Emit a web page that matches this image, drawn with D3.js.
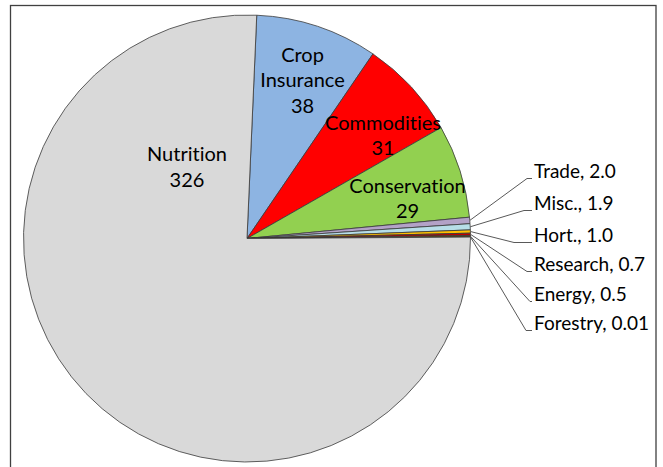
<!DOCTYPE html>
<html>
<head>
<meta charset="utf-8">
<script src="https://cdn.jsdelivr.net/npm/d3@7/dist/d3.min.js"></script>
<style>
  html, body { margin: 0; padding: 0; background: #ffffff; }
  svg { display: block; }
  text { font-family: Lato, "Open Sans", sans-serif; fill: #000; font-variant-ligatures: none; font-feature-settings: "liga" 0, "dlig" 0; }
</style>
</head>
<body>
<svg id="chart" width="663" height="467"></svg>
<script>
// ---- data ----
const categories = ["Crop Insurance", "Commodities", "Conservation", "Trade", "Misc.", "Hort.", "Research", "Energy", "Forestry", "Nutrition"];
const values     = [38, 31, 29, 2.0, 1.9, 1.0, 0.7, 0.5, 0.01, 326];
const valueLabels = ["38", "31", "29", "2.0", "1.9", "1.0", "0.7", "0.5", "0.01", "326"];
const colors     = ["#8db4e2", "#ff0000", "#92d050", "#b3a2c7", "#b7dee8", "#ffc000", "#c00000", "#7f6000", "#00b050", "#d9d9d9"];

// inner labels (multi-line), index into categories
const innerLabelLines = {
  0: ["Crop", "Insurance", "38"],
  1: ["Commodities", "31"],
  2: ["Conservation", "29"],
  9: ["Nutrition", "326"]
};

// ---- layout ----
const W = 663, H = 467;
const cx = 247, cy = 238.5, R = 223.5;
const startOffset = 2.5 * Math.PI / 180;
const innerPos = { 0: [302.5, 61.5], 1: [383, 129.5], 2: [407.5, 192.5], 9: [187, 161] };
const innerLineH = 25.8;
const outerLabelX = 534;
const outerBaselines = { 3: 178, 4: 210, 5: 242, 6: 271, 7: 301, 8: 330 };
const elbowX = { 3: 527, 4: 524, 5: 514, 6: 527, 7: 530, 8: 526 };
const lineEndX = 532;

const svg = d3.select("#chart");

// frame
svg.append("rect")
  .attr("x", 10.5).attr("y", 5.5)
  .attr("width", 645.5).attr("height", H + 20)
  .attr("fill", "#fff")
  .attr("stroke", "#404040")
  .attr("stroke-width", 1.3);

const data = categories.map((c, i) => ({ name: c, value: values[i], label: valueLabels[i], color: colors[i], idx: i }));

const pie = d3.pie()
  .value(d => d.value)
  .sort(null)
  .startAngle(startOffset)
  .endAngle(startOffset + 2 * Math.PI);

const arcs = pie(data);
const arc = d3.arc().innerRadius(0).outerRadius(R);

const g = svg.append("g").attr("transform", `translate(${cx},${cy})`);

g.selectAll("path.slice")
  .data(arcs)
  .join("path")
  .attr("class", "slice")
  .attr("d", arc)
  .attr("fill", d => d.data.color)
  .attr("stroke", "#3a3a3a")
  .attr("stroke-width", 0.8)
  .attr("stroke-linejoin", "round");

// inner labels
arcs.filter(a => innerLabelLines[a.data.idx]).forEach(a => {
  const i = a.data.idx;
  const lines = innerLabelLines[i];
  const [x, y0] = innerPos[i];
  const t = svg.append("text")
    .attr("text-anchor", "middle")
    .attr("font-size", 20);
  lines.forEach((ln, k) => {
    t.append("tspan").attr("x", x).attr("y", y0 + k * innerLineH).text(ln);
  });
});

// outer labels with leader lines
arcs.filter(a => outerBaselines[a.data.idx] !== undefined).forEach(a => {
  const i = a.data.idx;
  const mid = (a.startAngle + a.endAngle) / 2;
  const sx = cx + R * Math.sin(mid);
  const sy = cy - R * Math.cos(mid);
  const by = outerBaselines[i];
  const ly = by + 0.5;
  svg.append("polyline")
    .attr("points", `${sx},${sy} ${elbowX[i]},${ly} ${lineEndX},${ly}`)
    .attr("fill", "none")
    .attr("stroke", "#595959")
    .attr("stroke-width", 1);
  svg.append("text")
    .attr("x", outerLabelX)
    .attr("y", by)
    .attr("font-size", 19)
    .text(`${a.data.name}, ${a.data.label}`);
});
</script>
</body>
</html>
